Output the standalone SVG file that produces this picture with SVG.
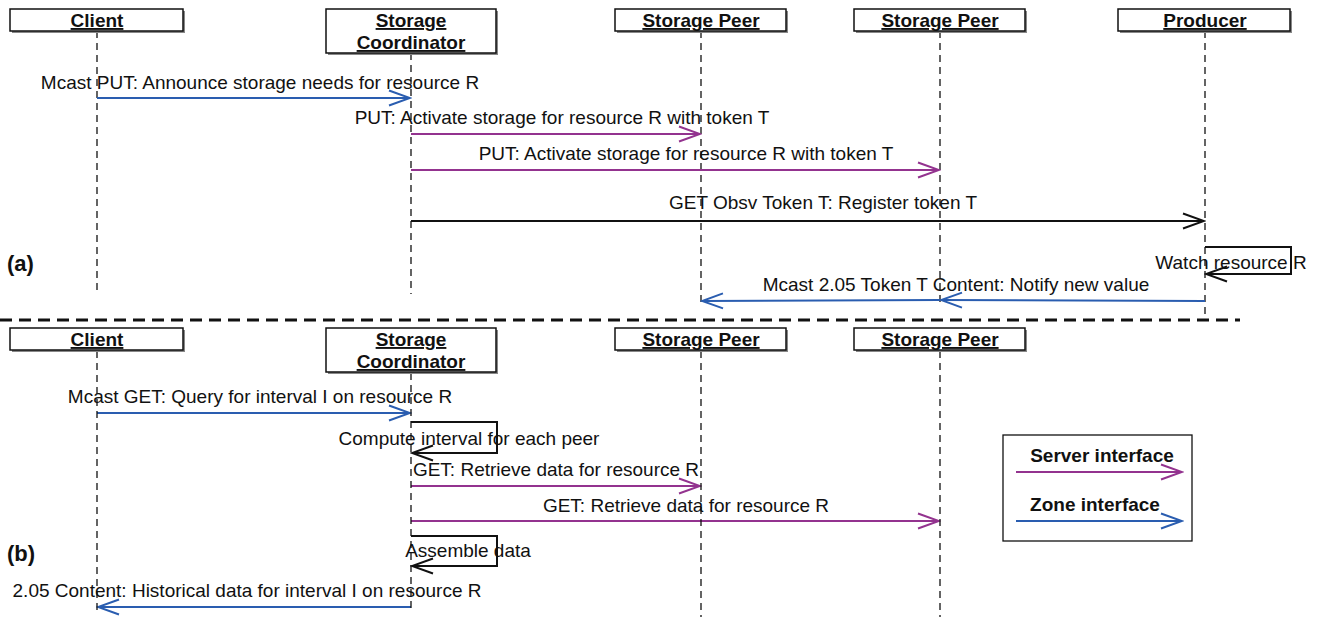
<svg xmlns="http://www.w3.org/2000/svg" width="1320" height="619" viewBox="0 0 1320 619">
<defs>
<style>
text{font-family:"Liberation Sans",Arial,sans-serif;font-size:19px;fill:#111}
.t{text-anchor:middle;font-weight:bold;text-decoration:underline}
.lbl{text-anchor:middle}
.box{fill:#fff;stroke:#111;stroke-width:1.5}
.sh{fill:#888}
.life{stroke:#111;stroke-width:1.3;stroke-dasharray:7,5;fill:none}
.msg{fill:none;stroke-width:2}
.blue{stroke:#2a5db0}
.purple{stroke:#93338f}
.black{stroke:#111}
.sec{font-weight:bold;font-size:22px}
.leg{font-weight:bold;text-anchor:middle}
</style>
<marker id="ab" viewBox="-23 -9 25 18" markerWidth="25" markerHeight="18" refX="0" refY="0" orient="auto" markerUnits="userSpaceOnUse"><path d="M-21,-7.5 L0,0 L-21,7.5" fill="none" stroke="#2a5db0" stroke-width="2"/></marker>
<marker id="ap" viewBox="-23 -9 25 18" markerWidth="25" markerHeight="18" refX="0" refY="0" orient="auto" markerUnits="userSpaceOnUse"><path d="M-21,-7.5 L0,0 L-21,7.5" fill="none" stroke="#93338f" stroke-width="2"/></marker>
<marker id="ak" viewBox="-23 -9 25 18" markerWidth="25" markerHeight="18" refX="0" refY="0" orient="auto" markerUnits="userSpaceOnUse"><path d="M-21,-7.5 L0,0 L-21,7.5" fill="none" stroke="#111" stroke-width="2"/></marker>
</defs>
<rect width="1320" height="619" fill="#fff"/>

<g id="lifelines-a">
<line class="life" x1="97" y1="31" x2="97" y2="294"/>
<line class="life" x1="411" y1="53" x2="411" y2="294"/>
<line class="life" x1="701" y1="31" x2="701" y2="302"/>
<line class="life" x1="940" y1="31" x2="940" y2="302"/>
<line class="life" x1="1205" y1="31" x2="1205" y2="318"/>
</g>
<g id="client-a"><rect class="sh" x="12" y="11" width="173" height="22"/><rect class="box" x="10" y="9" width="173" height="22"/><text class="t" x="97" y="27">Client</text></g>
<g id="coord-a"><rect class="sh" x="328" y="11" width="170" height="44"/><rect class="box" x="326" y="9" width="170" height="44"/><text class="t" x="411" y="27">Storage</text><text class="t" x="411" y="49">Coordinator</text></g>
<g id="peer1-a"><rect class="sh" x="617" y="11" width="171" height="22"/><rect class="box" x="615" y="9" width="171" height="22"/><text class="t" x="701" y="27">Storage Peer</text></g>
<g id="peer2-a"><rect class="sh" x="856" y="11" width="171" height="22"/><rect class="box" x="854" y="9" width="171" height="22"/><text class="t" x="940" y="27">Storage Peer</text></g>
<g id="producer-a"><rect class="sh" x="1120" y="11" width="172" height="22"/><rect class="box" x="1118" y="9" width="172" height="22"/><text class="t" x="1205" y="27">Producer</text></g>

<g id="connectors">
<line class="msg blue" x1="97" y1="98" x2="410" y2="98" marker-end="url(#ab)"/>
<line class="msg purple" x1="411" y1="134" x2="700" y2="134" marker-end="url(#ap)"/>
<line class="msg purple" x1="411" y1="170" x2="939" y2="170" marker-end="url(#ap)"/>
<line class="msg black" x1="411" y1="221" x2="1204" y2="221" marker-end="url(#ak)"/>
<polyline class="msg black" points="1205,247 1291,247 1291,274 1206,274" marker-end="url(#ak)"/>
<line class="msg blue" x1="1205" y1="301" x2="941" y2="300" marker-end="url(#ab)"/>
<line class="msg blue" x1="940" y1="300" x2="702" y2="301" marker-end="url(#ab)"/>

<line class="msg blue" x1="97" y1="413" x2="410" y2="413" marker-end="url(#ab)"/>
<polyline class="msg black" points="411,422 497,422 497,453 412,453" marker-end="url(#ak)"/>
<line class="msg purple" x1="411" y1="486" x2="700" y2="486" marker-end="url(#ap)"/>
<line class="msg purple" x1="411" y1="521" x2="939" y2="521" marker-end="url(#ap)"/>
<polyline class="msg black" points="411,536 497,536 497,566 412,566" marker-end="url(#ak)"/>
<line class="msg blue" x1="411" y1="607" x2="98" y2="607" marker-end="url(#ab)"/>
</g>

<g id="labels">
<text class="lbl" x="260" y="89">Mcast PUT: Announce storage needs for resource R</text>
<text class="lbl" x="562" y="124">PUT: Activate storage for resource R with token T</text>
<text class="lbl" x="686" y="160">PUT: Activate storage for resource R with token T</text>
<text class="lbl" x="823" y="209">GET Obsv Token T: Register token T</text>
<text class="lbl" x="1231" y="269">Watch resource R</text>
<text class="lbl" x="956" y="291">Mcast 2.05 Token T Content: Notify new value</text>
<text class="lbl" x="260" y="403">Mcast GET: Query for interval I on resource R</text>
<text class="lbl" x="469" y="445">Compute interval for each peer</text>
<text class="lbl" x="556" y="476">GET: Retrieve data for resource R</text>
<text class="lbl" x="686" y="512">GET: Retrieve data for resource R</text>
<text class="lbl" x="468" y="557">Assemble data</text>
<text class="lbl" x="247" y="597">2.05 Content: Historical data for interval I on resource R</text>
</g>

<text class="sec" x="7" y="271">(a)</text>
<line x1="0" y1="320" x2="1240" y2="320" stroke="#111" stroke-width="3" stroke-dasharray="12,7"/>
<text class="sec" x="7" y="561">(b)</text>

<g id="lifelines-b">
<line class="life" x1="97" y1="351" x2="97" y2="613"/>
<line class="life" x1="411" y1="373" x2="411" y2="613"/>
<line class="life" x1="701" y1="351" x2="701" y2="617"/>
<line class="life" x1="940" y1="351" x2="940" y2="617"/>
</g>
<g id="client-b"><rect class="sh" x="12" y="330" width="173" height="22"/><rect class="box" x="10" y="328" width="173" height="22"/><text class="t" x="97" y="346">Client</text></g>
<g id="coord-b"><rect class="sh" x="328" y="330" width="170" height="44"/><rect class="box" x="326" y="328" width="170" height="44"/><text class="t" x="411" y="346">Storage</text><text class="t" x="411" y="368">Coordinator</text></g>
<g id="peer1-b"><rect class="sh" x="617" y="330" width="171" height="22"/><rect class="box" x="615" y="328" width="171" height="22"/><text class="t" x="701" y="346">Storage Peer</text></g>
<g id="peer2-b"><rect class="sh" x="856" y="330" width="171" height="22"/><rect class="box" x="854" y="328" width="171" height="22"/><text class="t" x="940" y="346">Storage Peer</text></g>

<g id="legend">
<rect x="1003" y="435" width="189" height="106" fill="#fff" stroke="#111" stroke-width="1.3"/>
<text class="leg" x="1102" y="462">Server interface</text>
<line class="msg purple" x1="1016" y1="472" x2="1182" y2="472" marker-end="url(#ap)"/>
<text class="leg" x="1095" y="511">Zone interface</text>
<line class="msg blue" x1="1016" y1="521" x2="1182" y2="521" marker-end="url(#ab)"/>
</g>
</svg>
